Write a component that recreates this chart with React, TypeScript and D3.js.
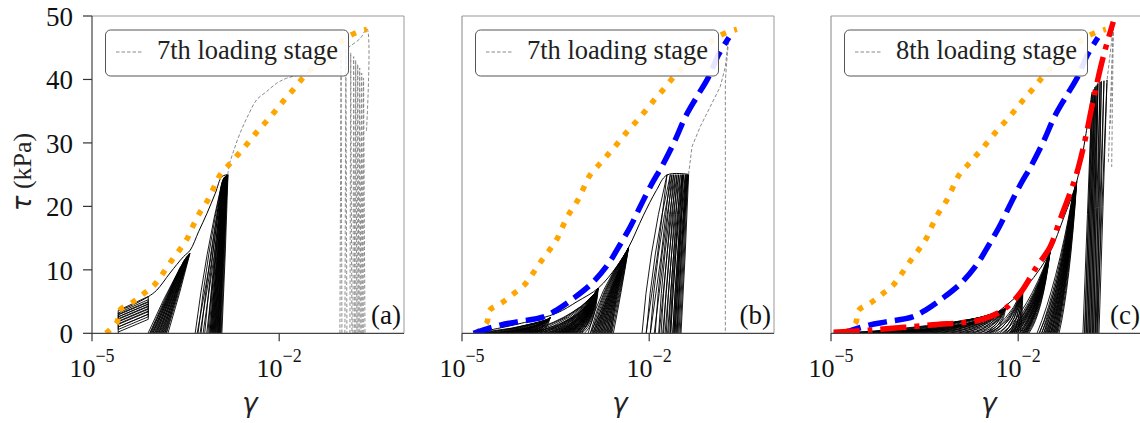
import React from 'react';
import * as d3 from 'd3';

// ---------- axis / text data ----------
const X_TICKS = [1e-5, 1e-2];
const X_TICK_EXP = ['\u22125', '\u22122'];
const Y_TICKS = [0, 10, 20, 30, 40, 50];
const PANEL_TAGS = ['(a)', '(b)', '(c)'];
const LEGEND_LABELS = ['7th loading stage', '7th loading stage', '8th loading stage'];

// ---------- backbone curves (gamma, tau) ----------
const ORANGE_G = [1.67e-5, 2.5e-5, 2.75e-5, 4.35e-5, 6.67e-5, 9.9e-5, 1.36e-4, 1.9e-4, 2.52e-4, 3.3e-4, 4.1e-4, 5.25e-4, 6.9e-4, 8.8e-4, 1.12e-3, 1.58e-3, 2.2e-3, 3.1e-3, 4.37e-3, 6.1e-3, 8.6e-3, 1.21e-2, 1.68e-2, 2.38e-2, 3.4e-2, 5.0e-2, 7.5e-2, 0.12, 0.175, 0.255];
const ORANGE_T = [0, 1.7, 3.6, 4.8, 6.2, 7.6, 9.4, 11.5, 13.1, 14.8, 16.8, 18.9, 20.7, 22.8, 24.9, 26.6, 28.2, 29.9, 31.7, 33.3, 35.0, 36.8, 38.4, 40.2, 41.8, 43.4, 45.0, 46.6, 47.4, 47.9];

const BLUE_G = [1.53e-5, 4.1e-5, 7.6e-5, 2.03e-4, 3.33e-4, 6.1e-4, 1.21e-3, 2.23e-3, 3.24e-3, 4.98e-3, 7.2e-3, 1.04e-2, 1.7e-2, 2.62e-2, 3.8e-2, 5.83e-2, 8.95e-2, 0.129, 0.19];
const BLUE_T = [0, 1.3, 1.8, 2.6, 3.7, 5.5, 7.9, 11.0, 13.6, 16.8, 20.0, 23.1, 26.8, 30.5, 34.1, 37.3, 40.4, 43.9, 46.6];

const RED_G = [1.1e-5, 4.2e-5, 3.86e-4, 2.45e-3, 5.77e-3, 1.07e-2, 1.98e-2, 3.24e-2, 4.68e-2, 6.76e-2, 8.67e-2, 0.118, 0.16, 0.231, 0.334];
const RED_T = [0.15, 0.5, 1.3, 2.1, 3.7, 6.3, 10.5, 13.6, 17.9, 22.1, 25.2, 30.5, 36.8, 43.6, 49.1];

// ---------- first-loading envelopes (thin black) ----------
const ENV_A_G = [2.75e-5, 4.35e-5, 7.97e-5, 1.09e-4, 1.78e-4, 2.92e-4, 3.75e-4, 5.1e-4, 6.96e-4, 9.46e-4, 1.21e-3, 1.5e-3];
const ENV_A_T = [3.6, 4.4, 5.77, 6.8, 9.5, 12.07, 13.1, 16.0, 18.9, 22.06, 24.7, 25.0];
const ENV_B_G = [1.55e-5, 1e-4, 3.33e-4, 7e-4, 1.53e-3, 3.0e-3, 4.68e-3, 8e-3, 1.3e-2, 1.93e-2, 4.28e-2];
const ENV_B_T = [0, 1.7, 3.2, 5.0, 7.13, 10.5, 13.55, 18.5, 22.5, 24.95, 25.05];
const ENV_C_G = [1.1e-5, 1e-4, 1e-3, 3.5e-3, 5.7e-3, 1.19e-2, 2e-2, 3.24e-2, 5.5e-2, 8.67e-2, 0.12, 0.152];
const ENV_C_T = [0.1, 0.4, 1.2, 2.6, 4.0, 6.8, 9.5, 12.8, 18.5, 23.9, 31, 38];

// ---------- loading-stage (gray dashed) ----------
const GRAY_A_G = [1.5e-3, 1.58e-3, 1.84e-3, 2.35e-3, 3.2e-3, 4.36e-3, 6.3e-3, 9.1e-3, 1.32e-2, 3.1e-2, 9.4e-2, 0.127, 0.2, 0.255, 0.25];
const GRAY_A_T = [25.0, 26.5, 28.6, 31.5, 34.4, 36.8, 38.1, 39.4, 40.2, 41.2, 43.9, 45.0, 46.5, 48.0, 31.7];
const GRAY_A_FEET = [0.094, 0.113, 0.136, 0.152, 0.164, 0.177, 0.19, 0.205, 0.22];
const GRAY_A_TOPS = [0.098, 0.117, 0.14, 0.156, 0.168, 0.181, 0.195, 0.21, 0.225];
const GRAY_A_PEAKS = [44.5, 44.8, 44.2, 43.6, 43.0, 42.4, 41.8, 41.0, 40.2];
const GRAY_B_G = [4.28e-2, 4.85e-2, 6.6e-2, 9.5e-2, 0.138, 0.166, 0.177, 0.187, 0.172, 0.166, 0.166];
const GRAY_B_T = [25.05, 29.4, 32.6, 35.7, 38.9, 42.0, 44.6, 46.2, 42, 39.6, 0];
const GRAY_C_TOP = [0.334, 48.3];
const GRAY_C_END_G = [0.315, 0.278, 0.262, 0.3];
const GRAY_C_END_T = [26.2, 26.8, 39.4, 33.0];

// ---------- hysteresis loops ----------
const A1_G = [2.63e-5, 7.97e-5];
const A1_LEFT_LO = [0.2, 0.6, 1.0, 1.4, 1.8, 2.2, 2.6, 3.0];
const A1_LEFT_HI = [1.0, 1.5, 1.9, 2.3, 2.6, 2.9, 3.2, 3.6];
const A1_RIGHT_LO = [2.2, 2.6, 3.0, 3.4, 3.8, 4.2, 4.6, 5.0];
const A1_RIGHT_HI = [3.0, 3.5, 3.9, 4.3, 4.6, 4.9, 5.3, 5.8];

const A2_FEET = [7.9e-5, 8.4e-5, 8.8e-5, 9.4e-5, 9.9e-5, 1.05e-4, 1.1e-4, 1.17e-4, 1.23e-4, 1.3e-4, 1.37e-4, 1.45e-4, 1.53e-4];
const A2_TOPS = [2.6e-4, 2.75e-4, 2.9e-4, 3.0e-4, 3.1e-4, 3.2e-4, 3.3e-4, 3.4e-4, 3.45e-4, 3.55e-4, 3.6e-4, 3.65e-4, 3.72e-4];
const A2_PEAKS = [10.4, 10.8, 11.2, 11.5, 11.7, 11.9, 12.1, 12.2, 12.3, 12.4, 12.5, 12.6, 12.65];

const A3_FEET = [4.5e-4, 5.0e-4, 5.6e-4, 6.4e-4, 7.2e-4, 7.5e-4, 7.8e-4, 8.1e-4, 8.4e-4, 8.7e-4, 9.0e-4, 9.3e-4, 9.6e-4, 1.0e-3, 1.03e-3, 1.06e-3, 1.09e-3, 1.12e-3];
const A3_TOPS = [1.2e-3, 1.22e-3, 1.25e-3, 1.26e-3, 1.27e-3, 1.29e-3, 1.3e-3, 1.32e-3, 1.34e-3, 1.35e-3, 1.37e-3, 1.39e-3, 1.4e-3, 1.42e-3, 1.44e-3, 1.46e-3, 1.48e-3, 1.51e-3];
const A3_PEAKS = [23.6, 23.9, 24.1, 24.2, 24.3, 24.4, 24.5, 24.55, 24.6, 24.65, 24.7, 24.75, 24.8, 24.85, 24.9, 24.95, 25.0, 25.0];

const B0_FEET = [1.63e-5, 2.0e-5, 2.36e-5, 2.9e-5, 3.42e-5, 4.1e-5, 4.94e-5, 6.0e-5, 7.15e-5, 8.6e-5, 1.03e-4, 1.25e-4, 1.5e-4];
const B0_TOPS = [2.3e-4, 2.35e-4, 2.4e-4, 2.45e-4, 2.5e-4, 2.5e-4, 2.55e-4, 2.55e-4, 2.6e-4, 2.6e-4, 2.6e-4, 2.6e-4, 2.6e-4];
const B0_PEAKS = [2.0, 2.1, 2.15, 2.2, 2.25, 2.3, 2.35, 2.4, 2.4, 2.45, 2.5, 2.5, 2.5];

const B1_FEET = [8.5e-5, 1.0e-4, 1.2e-4, 1.45e-4, 1.78e-4, 2.0e-4, 2.3e-4, 2.55e-4, 2.8e-4, 3.1e-4, 3.3e-4, 3.49e-4, 3.7e-4, 3.9e-4, 4.1e-4, 4.35e-4, 4.6e-4, 4.9e-4, 5.2e-4, 5.44e-4, 5.8e-4, 6.1e-4, 6.5e-4, 6.79e-4, 7.4e-4, 8.17e-4];
const B1_TOPS = [1.35e-3, 1.36e-3, 1.37e-3, 1.38e-3, 1.39e-3, 1.4e-3, 1.41e-3, 1.42e-3, 1.43e-3, 1.44e-3, 1.44e-3, 1.45e-3, 1.45e-3, 1.46e-3, 1.46e-3, 1.47e-3, 1.47e-3, 1.48e-3, 1.48e-3, 1.49e-3, 1.5e-3, 1.5e-3, 1.51e-3, 1.51e-3, 1.52e-3, 1.53e-3];
const B1_PEAKS = [6.2, 6.3, 6.4, 6.45, 6.5, 6.55, 6.6, 6.65, 6.7, 6.75, 6.8, 6.82, 6.85, 6.88, 6.9, 6.92, 6.95, 6.97, 7.0, 7.0, 7.05, 7.05, 7.1, 7.1, 7.12, 7.13];

const B2_FEET = [1.05e-3, 1.14e-3, 1.2e-3, 1.27e-3, 1.34e-3, 1.42e-3, 1.5e-3, 1.58e-3, 1.67e-3, 1.77e-3, 1.87e-3, 1.98e-3, 2.1e-3, 2.21e-3, 2.34e-3, 2.47e-3];
const B2_TOPS = [4.3e-3, 4.35e-3, 4.4e-3, 4.42e-3, 4.45e-3, 4.48e-3, 4.5e-3, 4.53e-3, 4.55e-3, 4.58e-3, 4.6e-3, 4.62e-3, 4.64e-3, 4.66e-3, 4.67e-3, 4.68e-3];
const B2_PEAKS = [12.8, 12.9, 13.0, 13.05, 13.1, 13.15, 13.2, 13.25, 13.3, 13.35, 13.4, 13.42, 13.45, 13.5, 13.52, 13.55];

const B3_FEET = [7.68e-3, 9.0e-3, 1.04e-2, 1.25e-2, 1.42e-2, 1.55e-2, 1.7e-2, 1.88e-2, 2.05e-2, 2.15e-2, 2.23e-2, 2.4e-2, 2.5e-2, 2.59e-2, 2.7e-2, 2.79e-2];
const B3_TOPS = [1.93e-2, 2.18e-2, 2.32e-2, 2.46e-2, 2.62e-2, 2.79e-2, 2.96e-2, 3.15e-2, 3.35e-2, 3.45e-2, 3.56e-2, 3.79e-2, 3.9e-2, 4.03e-2, 4.15e-2, 4.28e-2];
const B3_PEAKS = [25, 25, 25, 25, 25, 25, 25, 25, 25, 25, 25, 25, 25, 25, 25, 25];

const C1_FEET = [1.4e-5, 2.0e-5, 3.0e-5, 4.2e-5, 6.0e-5, 8.8e-5, 1.3e-4, 1.85e-4, 2.7e-4, 3.86e-4, 5.6e-4, 8.1e-4, 1.1e-3, 1.4e-3, 1.9e-3, 2.44e-3, 3.0e-3];
const C1_TOPS = [4.6e-3, 4.8e-3, 5.0e-3, 5.1e-3, 5.2e-3, 5.3e-3, 5.4e-3, 5.5e-3, 5.6e-3, 5.7e-3, 5.8e-3, 5.9e-3, 6.0e-3, 6.1e-3, 6.2e-3, 6.3e-3, 6.4e-3];
const C1_PEAKS = [3.0, 3.1, 3.2, 3.3, 3.4, 3.5, 3.6, 3.65, 3.7, 3.75, 3.8, 3.85, 3.9, 3.95, 4.0, 4.05, 4.1];

const C2A_FEET = [3.0e-3, 3.5e-3, 4.2e-3, 5.1e-3, 6.0e-3, 7.4e-3, 8.5e-3, 9.9e-3];
const C2A_TOPS = [1.1e-2, 1.12e-2, 1.14e-2, 1.15e-2, 1.16e-2, 1.17e-2, 1.18e-2, 1.19e-2];
const C2A_PEAKS = [6.2, 6.3, 6.4, 6.5, 6.6, 6.7, 6.75, 6.8];

const C2B_FEET = [5.7e-3, 6.5e-3, 7.0e-3, 7.4e-3, 7.9e-3, 8.4e-3, 9.0e-3, 9.6e-3, 1.05e-2, 1.1e-2, 1.15e-2, 1.2e-2, 1.26e-2, 1.32e-2, 1.38e-2];
const C2B_TOPS = [3.0e-2, 3.05e-2, 3.08e-2, 3.1e-2, 3.11e-2, 3.12e-2, 3.14e-2, 3.15e-2, 3.17e-2, 3.18e-2, 3.19e-2, 3.21e-2, 3.22e-2, 3.23e-2, 3.24e-2];
const C2B_PEAKS = [12.0, 12.1, 12.15, 12.2, 12.25, 12.3, 12.4, 12.45, 12.5, 12.55, 12.6, 12.65, 12.7, 12.75, 12.8];

const C3_FEET = [2.0e-2, 2.2e-2, 2.38e-2, 2.55e-2, 2.69e-2, 2.85e-2, 3.0e-2, 3.12e-2, 3.3e-2, 3.45e-2, 3.61e-2, 3.8e-2, 4.0e-2, 4.19e-2];
const C3_TOPS = [7.4e-2, 7.6e-2, 7.8e-2, 8.0e-2, 8.1e-2, 8.2e-2, 8.3e-2, 8.4e-2, 8.45e-2, 8.5e-2, 8.55e-2, 8.6e-2, 8.65e-2, 8.67e-2];
const C3_PEAKS = [21.5, 22.0, 22.4, 22.8, 23.0, 23.2, 23.4, 23.5, 23.6, 23.7, 23.8, 23.85, 23.9, 23.9];

const C4_FEET = [0.109, 0.115, 0.122, 0.129, 0.136, 0.144, 0.152, 0.16, 0.17, 0.176, 0.183];
const C4_TOPS = [0.152, 0.158, 0.165, 0.17, 0.177, 0.185, 0.19, 0.205, 0.215, 0.237, 0.265];
const C4_PEAKS = [37.5, 38.0, 38.5, 38.8, 39.0, 39.2, 39.4, 39.6, 39.7, 39.8, 39.9];

// ---------- layout ----------
const W = 1140;
const H = 423;
const LEFTS = [92, 462, 831];
const PW = 312;
const TOP = 16;
const BOT = 333.3;
const SERIF = '"Times New Roman", "Liberation Serif", Tinos, "DejaVu Serif", serif';
const SANS = '"DejaVu Sans", sans-serif';

type Shape = [number, number, number, number, number];

function zip(g: number[], t: number[]): [number, number][] {
  return g.map((v, i) => [v, t[i]]);
}

function loopsPath(x: any, y: any, feet: number[], tops: number[], peaks: number[], shape: Shape) {
  const [cxL, cyL, cxR, cyR, w] = shape;
  const p = d3.path();
  feet.forEach((f, i) => {
    const x0 = x(f), y0 = y(0), x1 = x(tops[i]), y1 = y(peaks[i]);
    const x0r = x0 + w;
    p.moveTo(x0, y0);
    p.quadraticCurveTo(x0 + cxL * (x1 - x0), y0 + cyL * (y1 - y0), x1, y1);
    p.quadraticCurveTo(x0r + cxR * (x1 - x0r), y0 + cyR * (y1 - y0), x0r, y0);
  });
  return p.toString();
}

function stairPath(x: any, y: any) {
  const p = d3.path();
  A1_LEFT_LO.forEach((lo, i) => {
    p.moveTo(x(A1_G[0]), y(lo));
    p.lineTo(x(A1_G[1]), y(A1_RIGHT_LO[i]));
    p.lineTo(x(A1_G[1]), y(A1_RIGHT_HI[i]));
    p.lineTo(x(A1_G[0]), y(A1_LEFT_HI[i]));
    p.closePath();
  });
  p.moveTo(x(A1_G[0]), y(0));
  p.lineTo(x(A1_G[0]), y(A1_LEFT_LO[0]));
  return p.toString();
}

const Panel: React.FC<{ idx: number }> = ({ idx }) => {
  const left = LEFTS[idx];
  const right = left + PW;
  const x = d3.scaleLog().domain([1e-5, 1]).range([left, right]);
  const y = d3.scaleLinear().domain([0, 50]).range([BOT, TOP]);
  const line = d3.line<[number, number]>().x(d => x(d[0])).y(d => y(d[1]));
  const smooth = d3.line<[number, number]>().x(d => x(d[0])).y(d => y(d[1])).curve(d3.curveCatmullRom.alpha(0.5));
  const clipId = `clip${idx}`;
  const black = { fill: 'none', stroke: '#000', strokeWidth: 0.9 };
  const gray = { fill: 'none', stroke: '#8a8a8a', strokeWidth: 1, strokeDasharray: '3.5,2' };

  const loops: React.ReactNode[] = [];
  const grays: React.ReactNode[] = [];
  let env: [number, number][] = [];
  if (idx === 0) {
    loops.push(<path key="a1" d={stairPath(x, y)} {...black} />);
    loops.push(<path key="a2" d={loopsPath(x, y, A2_FEET, A2_TOPS, A2_PEAKS, [0.45, 0.5, 0.55, 0.5, 2])} {...black} />);
    loops.push(<path key="a3" d={loopsPath(x, y, A3_FEET, A3_TOPS, A3_PEAKS, [0.4, 0.55, 0.6, 0.5, 2])} {...black} />);
    grays.push(<path key="ga" d={smooth(zip(GRAY_A_G, GRAY_A_T)) || ''} {...gray} />);
    grays.push(<path key="gl" d={loopsPath(x, y, GRAY_A_FEET, GRAY_A_TOPS, GRAY_A_PEAKS, [0.5, 0.5, 0.5, 0.5, 2])} {...gray} />);
    env = zip(ENV_A_G, ENV_A_T);
  } else if (idx === 1) {
    loops.push(<path key="b0" d={loopsPath(x, y, B0_FEET, B0_TOPS, B0_PEAKS, [0.5, 0.3, 0.7, 0.1, 3])} {...black} />);
    loops.push(<path key="b1" d={loopsPath(x, y, B1_FEET, B1_TOPS, B1_PEAKS, [0.65, 0.3, 0.75, 0.18, 3])} {...black} />);
    loops.push(<path key="b2" d={loopsPath(x, y, B2_FEET, B2_TOPS, B2_PEAKS, [0.3, 0.55, 0.5, 0.45, 2])} {...black} />);
    loops.push(<path key="b3" d={loopsPath(x, y, B3_FEET, B3_TOPS, B3_PEAKS, [0.25, 0.5, 0.6, 0.5, 4])} {...black} />);
    grays.push(<path key="gb" d={line(zip(GRAY_B_G, GRAY_B_T)) || ''} {...gray} />);
    env = zip(ENV_B_G, ENV_B_T);
  } else {
    loops.push(<path key="c1" d={loopsPath(x, y, C1_FEET, C1_TOPS, C1_PEAKS, [0.6, 0.3, 0.78, 0.1, 3])} {...black} />);
    loops.push(<path key="c2a" d={loopsPath(x, y, C2A_FEET, C2A_TOPS, C2A_PEAKS, [0.6, 0.25, 0.7, 0.2, 2])} {...black} />);
    loops.push(<path key="c2b" d={loopsPath(x, y, C2B_FEET, C2B_TOPS, C2B_PEAKS, [0.55, 0.3, 0.65, 0.25, 2])} {...black} />);
    loops.push(<path key="c3" d={loopsPath(x, y, C3_FEET, C3_TOPS, C3_PEAKS, [0.55, 0.35, 0.6, 0.3, 2])} {...black} />);
    loops.push(<path key="c4" d={loopsPath(x, y, C4_FEET, C4_TOPS, C4_PEAKS, [0.5, 0.5, 0.5, 0.5, 2])} {...black} />);
    GRAY_C_END_G.forEach((g, i) => {
      grays.push(<path key={`gc${i}`} d={line([[GRAY_C_TOP[0], GRAY_C_TOP[1]], [g, GRAY_C_END_T[i]]]) || ''} {...gray} />);
    });
    env = zip(ENV_C_G, ENV_C_T);
  }

  const serif = { fontFamily: SERIF };

  return (
    <g>
      <defs>
        <clipPath id={clipId}>
          <rect x={left} y={TOP - 6} width={PW} height={BOT - TOP + 6} />
        </clipPath>
      </defs>
      <g clipPath={`url(#${clipId})`}>
        {loops}
        <path d={smooth(env) || ''} fill="none" stroke="#000" strokeWidth={1} />
        {grays}
        <path d={smooth(zip(ORANGE_G, ORANGE_T)) || ''} fill="none" stroke="#FFA500" strokeWidth={5.5} strokeDasharray="5.5,8.5" />
        {idx >= 1 && (
          <path d={smooth(zip(BLUE_G, BLUE_T)) || ''} fill="none" stroke="#0000FF" strokeWidth={5.5} strokeDasharray="19,8" />
        )}
        {idx === 2 && (
          <path d={smooth(zip(RED_G, RED_T)) || ''} fill="none" stroke="#FF0000" strokeWidth={5.5} strokeDasharray="26,8,5,8" />
        )}
      </g>
      {/* frame */}
      <line x1={left} x2={right} y1={TOP} y2={TOP} stroke="#999" strokeWidth={1} />
      <line x1={right} x2={right} y1={TOP} y2={BOT} stroke="#999" strokeWidth={1} />
      <line x1={left} x2={left} y1={TOP} y2={BOT} stroke={idx === 0 ? '#444' : '#999'} strokeWidth={1.2} />
      <line x1={left} x2={right} y1={BOT} y2={BOT} stroke="#444" strokeWidth={1.2} />
      {/* x ticks */}
      {X_TICKS.map((t, i) => (
        <g key={i}>
          <line x1={x(t)} x2={x(t)} y1={BOT} y2={BOT + 8} stroke="#333" strokeWidth={1.2} />
          <text x={x(t)} y={BOT + 44} textAnchor="middle" style={serif} fontSize={26} fill="#111">
            10<tspan fontSize={18} dy={-15}>{X_TICK_EXP[i]}</tspan>
          </text>
        </g>
      ))}
      {/* y ticks */}
      {idx === 0 && Y_TICKS.map((t) => (
        <g key={t}>
          <line x1={left - 9} x2={left} y1={y(t)} y2={y(t)} stroke="#333" strokeWidth={1.2} />
          <text x={left - 19} y={y(t) + 10} textAnchor="end" style={serif} fontSize={27} fill="#111">{t}</text>
        </g>
      ))}
      {/* legend */}
      <rect x={left + 13.5} y={30} width={243} height={46} rx={5} ry={5} fill="#fff" fillOpacity={0.9} stroke="#555" strokeWidth={1} />
      <line x1={left + 24} x2={left + 51} y1={52} y2={52} stroke="#8a8a8a" strokeWidth={1.2} strokeDasharray="3.5,2" />
      <text x={left + 65} y={59} style={serif} fontSize={26.5} fill="#222">{LEGEND_LABELS[idx]}</text>
      {/* panel tag */}
      <text x={right - 3} y={324} textAnchor="end" style={serif} fontSize={27} fill="#111">{PANEL_TAGS[idx]}</text>
      {/* x label */}
      <text x={(left + right) / 2 + 2} y={412} textAnchor="middle" style={{ fontFamily: SANS, fontStyle: 'italic' }} fontSize={26} fill="#222">γ</text>
    </g>
  );
};

export default function App() {
  return (
    <svg width={W} height={H} viewBox={`0 0 ${W} ${H}`} style={{ position: 'absolute', left: 0, top: 0, background: '#fff' }}>
      <rect x={0} y={0} width={W} height={H} fill="#fff" />
      {[0, 1, 2].map(i => <Panel key={i} idx={i} />)}
      <text transform="translate(31,172) rotate(-90)" textAnchor="middle" fontSize={26} fill="#222">
        <tspan style={{ fontFamily: SANS, fontStyle: 'italic' }}>τ</tspan>
        <tspan style={{ fontFamily: SERIF }}> (kPa)</tspan>
      </text>
    </svg>
  );
}
